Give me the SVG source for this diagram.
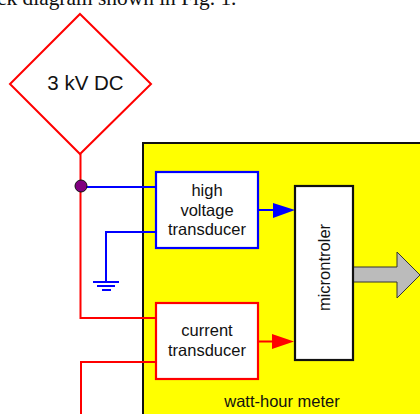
<svg xmlns="http://www.w3.org/2000/svg" width="420" height="414" viewBox="0 0 420 414">
<style>
text{font-family:"Liberation Sans",Arial,sans-serif;fill:#111;text-anchor:middle}
.s{font-size:16.5px}
.r{fill:none;stroke:#f00;stroke-width:2}
.b{fill:none;stroke:#00f;stroke-width:2}
.box{fill:#fff;stroke-width:2.200}
</style>
<text x="-3" y="5" style="font-family:'Liberation Serif',serif;font-size:21.4px;text-anchor:start">ck diagram shown in Fig. 1.</text>
<g id="meter"><rect x="143" y="143" width="290" height="290" fill="#ff0" stroke="#111" stroke-width="2"/>
<text class="s" x="282" y="407">watt-hour meter</text></g>
<g id="connectors">
<path class="r" d="M80.500 154V318H156M81 414V362H156"/>
<path class="b" d="M82 187H156M258 210H277M156 232H106V282M93 282H119M97 286H115M102 290H111"/>
<path class="r" d="M258 341.500H277"/>
<polygon points="273,203 295,210 273,218" fill="#00f"/>
<polygon points="272,334 294,341.500 272,349" fill="#f00"/>
<circle cx="81" cy="186" r="6" fill="#800080" stroke="#111"/>
</g>
<g id="source"><polygon points="80,14 151,84 80,154 10,84" fill="#fff" stroke="#f00" stroke-width="2"/>
<text x="85.500" y="90" font-size="20.500">3 kV DC</text></g>
<g id="hv"><rect class="box" x="156" y="172" width="102" height="76" stroke="#00f"/>
<text class="s" x="207" y="196">high</text><text class="s" x="207" y="216">voltage</text><text class="s" x="207" y="235">transducer</text></g>
<g id="ct"><rect class="box" x="156" y="303" width="102" height="76" stroke="#f00"/>
<text class="s" x="207" y="336">current</text><text class="s" x="207" y="356">transducer</text></g>
<g id="arrow"><polygon points="353,267 397,267 397,252 420,275 397,298 397,282 353,282" fill="#bbb" stroke="#333"/></g>
<g id="mcu"><rect class="box" x="295" y="186" width="58" height="174" stroke="#111"/>
<text class="s" transform="translate(330,267.500) rotate(-90)">microntroler</text></g>
</svg>
